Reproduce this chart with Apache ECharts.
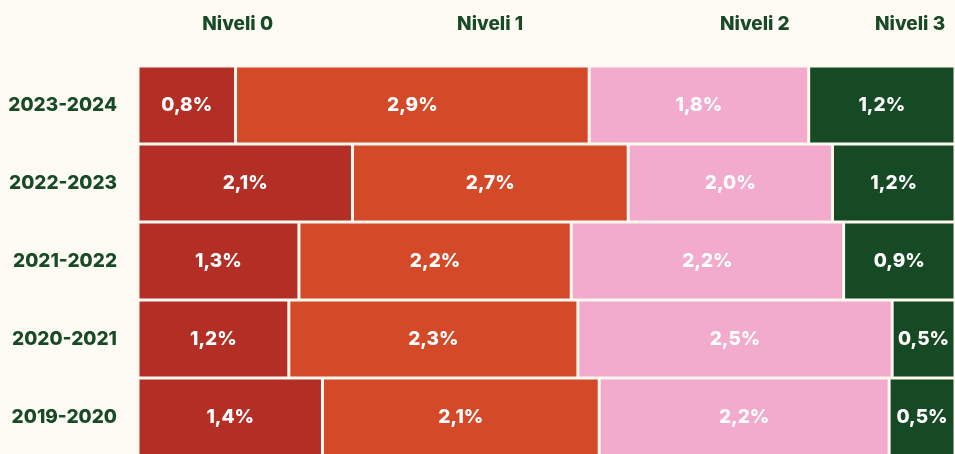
<!DOCTYPE html>
<html>
<head>
<meta charset="utf-8">
<script src="https://cdn.jsdelivr.net/npm/echarts@6/dist/echarts.min.js"></script>
<style>
  html, body { margin: 0; padding: 0; background: #fefbf4; }
  #chart { width: 955px; height: 454px; }
</style>
</head>
<body>
<div id="chart"></div>
<script>
const years = ["2023-2024", "2022-2023", "2021-2022", "2020-2021", "2019-2020"];
const levels = ["Niveli 0", "Niveli 1", "Niveli 2", "Niveli 3"];
const niveli0 = [0.8, 2.1, 1.3, 1.2, 1.4];
const niveli1 = [2.9, 2.7, 2.2, 2.3, 2.1];
const niveli2 = [1.8, 2.0, 2.2, 2.5, 2.2];
const niveli3 = [1.2, 1.2, 0.9, 0.5, 0.5];
// where the level names sit on the top axis (share of the row, %)
const headerPos = [12.2, 43.1, 75.5, 94.5];
const colors = ["#b32e24", "#d44a28", "#f2abcc", "#164a24"];

const raw = [niveli0, niveli1, niveli2, niveli3];
const totals = years.map((_, i) => raw.reduce((s, arr) => s + arr[i], 0));
const fmt = (v) => v.toFixed(1).replace(".", ",") + "%";
const font = "Inter, 'Noto Sans', sans-serif";

const chart = echarts.init(document.getElementById("chart"));
chart.setOption({
  backgroundColor: "#fefbf4",
  animation: false,
  grid: { left: 138, right: 0, top: 66, height: 390, outerBoundsMode: "none" },
  xAxis: [
    { type: "value", min: 0, max: 100, show: false },
    {
      type: "value",
      position: "top",
      min: 0,
      max: 100,
      axisLine: { show: false },
      axisTick: { show: false },
      splitLine: { show: false },
      axisLabel: {
        customValues: headerPos,
        margin: 32,
        color: "#174a25",
        fontFamily: font,
        fontWeight: 800,
        fontSize: 19,
        formatter: (v) => levels[headerPos.indexOf(v)] || "",
      },
    },
  ],
  yAxis: {
    type: "category",
    inverse: true,
    data: years,
    axisLine: { show: false },
    axisTick: { show: false },
    axisLabel: {
      margin: 21,
      color: "#174a25",
      fontFamily: font,
      fontWeight: 800,
      fontSize: 19,
      padding: [12, 0, 0, 0],
    },
  },
  series: raw.map((arr, k) => ({
    name: levels[k],
    type: "bar",
    stack: "all",
    xAxisIndex: 0,
    barCategoryGap: 0,
    data: arr.map((v, i) => ({ value: (v / totals[i]) * 100, raw: v })),
    itemStyle: { color: colors[k], borderColor: "#fdf8f0", borderWidth: 1.5 },
    label: {
      show: true,
      position: "inside",
      color: "#ffffff",
      fontFamily: font,
      fontWeight: 800,
      fontSize: 19,
      formatter: (p) => fmt(p.data.raw),
    },
  })),
});
</script>
</body>
</html>
